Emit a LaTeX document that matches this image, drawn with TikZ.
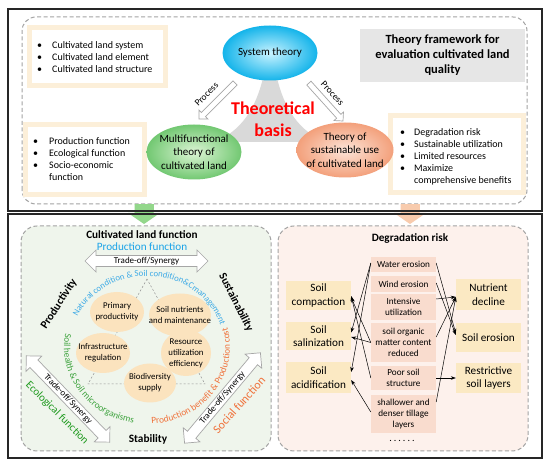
\documentclass[tikz,border=0pt]{standalone}
\usepackage{fontspec}
\setmainfont{Carlito}
\usetikzlibrary{shapes.geometric,shapes.arrows,decorations.text,arrows.meta}
\definecolor{dashgray}{HTML}{A3A3A3}
\definecolor{beigec}{HTML}{FCEFD9}
\definecolor{framegray}{HTML}{E6E6E6}
\definecolor{trigray}{HTML}{D9D9D9}
\definecolor{cyanout}{HTML}{14B4EA}
\definecolor{cyanin}{HTML}{C9F3FF}
\definecolor{greenout}{HTML}{72C872}
\definecolor{greenin}{HTML}{DDF5D5}
\definecolor{orangeout}{HTML}{F3A07B}
\definecolor{orangein}{HTML}{FCE4D8}
\definecolor{greenpanel}{HTML}{EFF5EC}
\definecolor{pinkpanel}{HTML}{FDF1EC}
\definecolor{tanc}{HTML}{FBE3BE}
\definecolor{pinkc}{HTML}{F9DCCE}
\definecolor{yelc}{HTML}{FBE9C3}
\definecolor{bluec}{HTML}{1AA3E8}
\definecolor{bluearc}{HTML}{3DAAE6}
\definecolor{greenc}{HTML}{1F9A1F}
\definecolor{greenarc}{HTML}{3EA33E}
\definecolor{orangec}{HTML}{F0713A}
\definecolor{arrowgray}{HTML}{A6A6A6}
\definecolor{downgreen}{HTML}{93D78B}
\definecolor{downpink}{HTML}{F8CBAD}
\begin{document}
\begin{tikzpicture}[x=1pt,y=1pt,
  outerbox/.style={draw=black!85, line width=1.1pt},
  dpanel/.style={draw=dashgray, dash pattern=on 4pt off 2.5pt, line width=1pt, rounded corners=14pt},
  bframe/.style={draw=beigec, line width=5pt, fill=white},
  thell/.style={ellipse, minimum width=95pt, minimum height=55pt, inner sep=0pt},
  thtext/.style={align=center, font=\fontsize{11}{13.5}\selectfont, inner sep=0pt},
  tanell/.style={ellipse, fill=tanc, inner sep=0pt},
  tantext/.style={align=center, font=\fontsize{8.8}{11}\selectfont, inner sep=0pt},
  mbox/.style={fill=pinkc, minimum width=65pt, inner sep=0pt, align=center, font=\fontsize{9.2}{11}\selectfont},
  sbox/.style={fill=yelc, minimum width=65pt, inner sep=0pt, align=center, font=\fontsize{11.2}{13.5}\selectfont},
  rel/.style={-{Stealth[length=5pt,width=3.6pt]}, line width=0.5pt, black},
  hollowtwo/.style={double arrow, draw=arrowgray, fill=white, line width=0.7pt, inner xsep=0pt, inner ysep=1.2pt, double arrow head extend=5.5pt, double arrow head indent=0pt, font=\fontsize{9}{10}\selectfont},
  proc/.style={single arrow, draw=arrowgray, fill=white, line width=0.7pt, minimum height=51pt, inner sep=2.5pt, single arrow head extend=3.5pt},
  proclabel/.style={font=\fontsize{9.5}{10}\selectfont, inner sep=0pt},
  bullets/.style={anchor=west, inner sep=0pt, font=\fontsize{10}{12}\selectfont},
  headbold/.style={font=\bfseries\fontsize{11.2}{13}\selectfont, inner sep=0pt},
  side/.style={font=\bfseries\fontsize{11.3}{13}\selectfont, inner sep=0pt}
]
\useasboundingbox (0,0) rectangle (550,466);
\fill[white] (0,0) rectangle (550,466);

% down arrows (under the borders)
\fill[downgreen] (134.5,262) -- (153.5,262) -- (153.5,253) -- (160,253) -- (144,242) -- (128,253) -- (134.5,253) -- cycle;
\fill[downpink] (400.5,262) -- (419.5,262) -- (419.5,253) -- (426,253) -- (410,242) -- (394,253) -- (400.5,253) -- cycle;

% outer boxes
\draw[outerbox] (8,255) rectangle (542,457);
\draw[outerbox] (8,8) rectangle (542,252);

% top panel
\draw[dpanel, fill=white] (22,262) rectangle (527,449);
\fill[downgreen] (134.5,262) rectangle (153.5,255.6);
\fill[downpink] (400.5,262) rectangle (419.5,255.6);

% bullet frames
\draw[bframe] (29.5,380.5) rectangle (165.5,438.5);
\draw[bframe] (25.5,271.5) rectangle (144.5,341.5);
\draw[bframe] (390.5,273.5) rectangle (523.5,350.5);

\node[bullets] (list1) at (37,408) {\begin{tabular}{@{}p{15pt}@{}l@{}}\textbullet & Cultivated land system\\ \textbullet & Cultivated land element\\ \textbullet & Cultivated land structure\end{tabular}};
\node[bullets] (list2) at (33,306) {\begin{tabular}{@{}p{16pt}@{}l@{}}\textbullet & Production function\\ \textbullet & Ecological function\\ \textbullet & Socio-economic\\ & function\end{tabular}};
\node[bullets] (list3) at (400,308.5) {\begin{tabular}{@{}p{14pt}@{}l@{}}\textbullet & Degradation risk\\ \textbullet & Sustainable utilization\\ \textbullet & Limited resources\\ \textbullet & Maximize\\ & comprehensive benefits\end{tabular}};

% framework box
\node[fill=framegray, minimum width=165pt, minimum height=53pt, inner sep=0pt, align=center, font=\bfseries\fontsize{12.5}{15}\selectfont] (tf) at (442.5,410.5) {Theory framework for\\evaluation cultivated land\\quality};

% grey triangle
\fill[trigray] (263,388) .. controls (255,355) and (240,335) .. (215,324) -- (325,324) .. controls (300,335) and (285,355) .. (277,388) -- cycle;

% theory ellipses
\node[thell, inner color=cyanin, outer color=cyanout] (sys) at (270,413) {};
\node[thtext] (syst) at (sys) {System theory};
\node[thell, inner color=greenin, outer color=greenout] (mft) at (194,314) {};
\node[thtext] (mftt) at (mft) {Multifunctional\\theory of\\cultivated land};
\node[thell, inner color=orangein, outer color=orangeout, minimum width=97pt] (sut) at (345,316) {};
\node[thtext] (sutt) at (sut) {Theory of\\sustainable use\\of cultivated land};

\node[font=\bfseries\fontsize{18}{22}\selectfont, text=red, align=center, inner sep=0pt] (tb) at (273,347) {Theoretical\\basis};

% process arrows
\node[proc, rotate=225] (p1) at (218,366) {};
\node[proc, rotate=-48] (p2) at (325,365) {};
\node[proclabel, rotate=45] (p1l) at (206.5,371.5) {Process};
\node[proclabel, rotate=-47] (p2l) at (332.5,372.5) {Process};

% bottom panels
\draw[dpanel, fill=greenpanel, rounded corners=16pt] (21,15) rectangle (271,240);
\draw[dpanel, fill=pinkpanel, rounded corners=16pt] (278,15) rectangle (528,240);

% ---- left lower panel
\node[headbold] (clf) at (142,231) {Cultivated land function};
\node[font=\fontsize{11.2}{13}\selectfont, text=bluec, inner sep=0pt] (pf) at (142,219) {Production function};
\node[hollowtwo, minimum height=123pt] (tos1) at (146.5,205) {Trade-off/Synergy};
\node[hollowtwo, minimum height=120pt, rotate=-46] (tos2) at (68,67) {Trade-off/Synergy};
\node[hollowtwo, minimum height=118pt, rotate=50] (tos3) at (222.5,68) {Trade-off/Synergy};
\node[side, rotate=57] (prod) at (59,162) {Productivity};
\node[side, rotate=-63] (sust) at (236,163.5) {Sustainability};
\node[side] (stab) at (148,27) {Stability};
\node[font=\fontsize{11}{13}\selectfont, text=greenc, rotate=-45, inner sep=0pt] (ecf) at (57,53) {Ecological function};
\node[font=\fontsize{12}{13}\selectfont, text=orangec, rotate=48, inner sep=0pt] (scf) at (239,61) {Social function};

% dashed triangle
\draw[dashgray!90!black, dash pattern=on 2pt off 2pt, line width=0.5pt] (147,187) coordinate (tri1) -- (88,82) coordinate (tri2) -- (205,82) coordinate (tri3) -- cycle;

% arc texts
\path[decorate, decoration={text along path, text align=center, text={|\color{bluearc}\fontsize{8.8}{10}\selectfont|Natural condition {\&} Soil condition{\&}Cmanagement}}]
  (147,119) ++(178:77 and 71) arc[start angle=178, end angle=-6, x radius=77, y radius=71];
\path[decorate, decoration={text along path, text align=center, text={|\color{greenarc}\fontsize{9.3}{10}\selectfont|Soil health {\&} Soil microorganisms}}]
  (147,119) ++(150:83 and 77) arc[start angle=150, end angle=279, x radius=83, y radius=77];
\path[decorate, decoration={text along path, text align=center, text={|\color{orangec}\fontsize{9.3}{10}\selectfont|Production benefit {\&} Production cost}}]
  (147,119) ++(255:83 and 77) arc[start angle=255, end angle=394, x radius=83, y radius=77];

% function ellipses
\node[tanell, minimum width=54pt, minimum height=40pt] (pp) at (117,154) {};
\node[tantext] (ppt) at (pp) {Primary\\productivity};
\node[tanell, minimum width=62pt, minimum height=43pt] (sn) at (180,151) {};
\node[tantext] (snt) at (sn) {Soil nutrients\\and maintenance};
\node[tanell, minimum width=54pt, minimum height=40pt] (ir) at (103,113) {};
\node[tantext] (irt) at (ir) {Infrastructure\\regulation};
\node[tanell, minimum width=50pt, minimum height=46pt] (ru) at (186,113) {};
\node[tantext] (rut) at (ru) {Resource\\utilization\\efficiency};
\node[tanell, minimum width=52pt, minimum height=39pt] (bs) at (150,83) {};
\node[tantext] (bst) at (bs) {Biodiversity\\supply};

% ---- right lower panel
\node[headbold] (dr) at (410,227) {Degradation risk};
\node[mbox, minimum height=15pt] (we) at (403.5,201.5) {Water erosion};
\node[mbox, minimum height=16pt] (wi) at (403.5,182) {Wind erosion};
\node[mbox, minimum height=26pt] (iu) at (403.5,159) {Intensive\\utilization};
\node[mbox, minimum height=39pt] (om) at (403.5,123.5) {soil organic\\matter content\\reduced};
\node[mbox, minimum height=24pt] (ps) at (403.5,88) {Poor soil\\structure};
\node[mbox, minimum height=38pt] (st) at (403.5,52) {shallower and\\denser tillage\\layers};
\node[font=\fontsize{10}{10}\selectfont, inner sep=0pt] (dots) at (402,25) {.\kern2pt.\kern2pt.\kern2pt.\kern2pt.\kern2pt.};

\node[sbox, minimum height=29pt] (sc) at (318.5,170.5) {Soil\\compaction};
\node[sbox, minimum height=28pt] (ss) at (318.5,130) {Soil\\salinization};
\node[sbox, minimum height=31pt] (sa) at (318.5,88.5) {Soil\\acidification};
\node[sbox, minimum height=31pt] (nd) at (488.5,171.5) {Nutrient\\decline};
\node[sbox, minimum height=29pt] (se) at (488.5,128.5) {Soil erosion};
\node[sbox, minimum height=30pt] (rs) at (488.5,88) {Restrictive\\soil layers};

% relations
\draw[rel] ([yshift=1.5pt]we.west) -- ([yshift=3.5pt]ss.east);
\draw[rel] ([yshift=1.5pt]we.west) -- ([yshift=5.5pt]sa.east);
\draw[rel] (om.west) -- ([yshift=-1pt]ss.east);
\draw[rel] (om.west) -- ([yshift=-2pt]sc.east);
\draw[rel] (ps.west) -- ([yshift=-0.5pt]sc.east);
\draw[rel] ([yshift=2pt]st.west) -- ([yshift=-2.5pt]sa.east);
\draw[rel] ([yshift=1.5pt]we.east) -- ([yshift=4pt]se.west);
\draw[rel] ([yshift=1pt]wi.east) -- ([yshift=2.5pt]se.west);
\draw[rel] ([yshift=8pt]iu.east) -- ([yshift=-2.5pt]nd.west);
\draw[rel] ([yshift=5.5pt]om.east) -- ([yshift=-2.5pt]nd.west);
\draw[rel] ([yshift=12pt]st.east) -- ([yshift=-2.5pt]nd.west);
\draw[rel] (ps.east) -- (rs.west);
\end{tikzpicture}
\end{document}
